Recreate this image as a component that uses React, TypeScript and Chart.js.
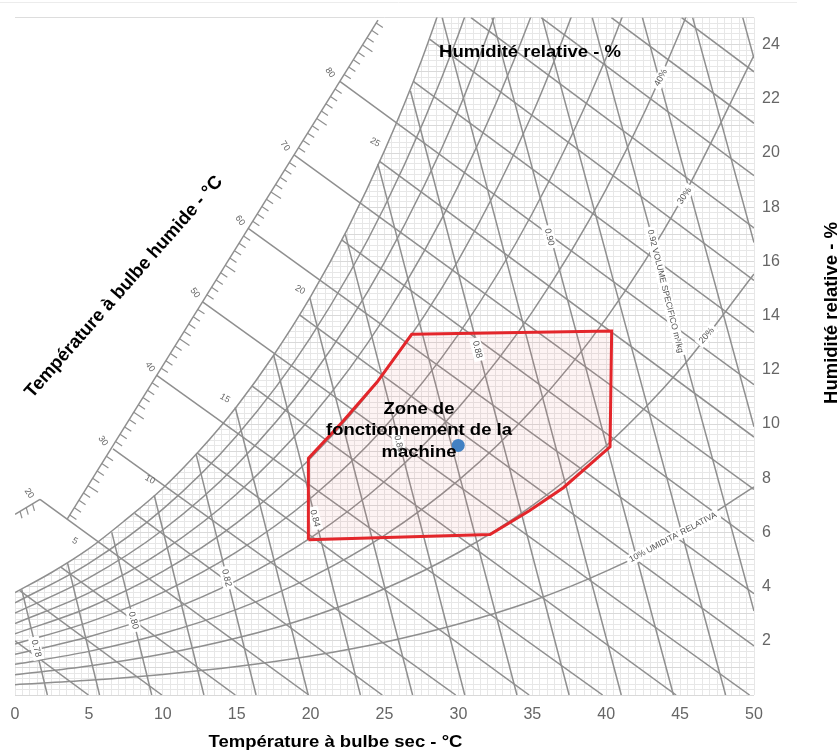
import React, { useEffect, useRef } from 'react';
import { Chart, registerables } from 'chart.js';

Chart.register(...registerables);

// ---------------- data (dry bulb °C, humidity g/kg) ----------------
const X_TICK_STEP = 5;
const Y_TICK_STEP = 2;

// saturation curve (100 %)
const SAT_T = [0, 2.5, 5, 7.5, 10, 12.5, 15, 17.5, 20, 22.5, 25, 27.5, 30];
const SAT_W = [3.78, 4.53, 5.4, 6.47, 7.63, 9.03, 10.65, 12.54, 14.7, 17.2, 20.09, 23.42, 27.3];

// relative humidity curves
const RH_T = [0, 5, 10, 15, 20, 25, 30, 35, 40, 45, 50];
const RH_90 = [3.4, 4.86, 6.86, 9.57, 13.2, 18.02, 24.38, 32.7];
const RH_80 = [3.02, 4.32, 6.09, 8.49, 11.7, 15.97, 21.58, 28.9];
const RH_70 = [2.64, 3.77, 5.32, 7.42, 10.22, 13.93, 18.8, 25.17, 33.4];
const RH_60 = [2.26, 3.23, 4.56, 6.35, 8.74, 11.9, 16.05, 21.44, 28.4];
const RH_50 = [1.88, 2.69, 3.79, 5.28, 7.26, 9.88, 13.31, 17.77, 23.52, 30.9];
const RH_40 = [1.5, 2.15, 3.03, 4.22, 5.8, 7.88, 10.6, 14.14, 18.67, 24.49, 31.9];
const RH_30 = [1.13, 1.61, 2.27, 3.16, 4.34, 5.89, 7.92, 10.54, 13.9, 18.19, 23.61];
const RH_20 = [0.75, 1.07, 1.51, 2.1, 2.88, 3.92, 5.26, 6.99, 9.2, 12.01, 15.54];
const RH_10 = [0.38, 0.54, 0.76, 1.05, 1.44, 1.95, 2.62, 3.47, 4.57, 5.95, 7.68];

// enthalpy / wet-bulb lines (start, end)
const ENTH_H = [5, 10, 15, 20, 25, 30, 35, 40, 45, 50, 55, 60, 65, 70, 75, 80, 85, 90, 95, 100, 105, 110];
const ENTH_START_T = [0, 0.3, 3.1, 1.69, 8.1, 6.63, 12.33, 9.59, 16.02, 12.69, 19.25, 15.78, 22.1, 18.88, 24.65, 21.98, 26.95, 28.07, 30.85, 35.6, 40.35, 45.1];
const ENTH_START_W = [2.0, 3.86, 4.72, 7.22, 6.7, 9.08, 8.93, 11.8, 11.41, 14.51, 14.03, 17.22, 16.8, 19.93, 19.7, 22.65, 22.65, 24.2, 25, 25, 25, 25];
const ENTH_END_T = [4.97, 9.94, 14.91, 19.88, 24.85, 29.82, 34.79, 39.76, 44.73, 49.7, 50, 50, 50, 50, 50, 50, 50, 50, 50, 50, 50, 50];
const ENTH_END_W = [0, 0, 0, 0, 0, 0, 0, 0, 0, 0, 1.81, 3.74, 5.67, 7.59, 9.52, 11.45, 13.38, 15.3, 17.24, 19.17, 21.1, 23.0];

// enthalpy diagonal scale
const ENTH_SCALE_H = [20.4, 88.4];
const ENTH_SCALE_T = [3.52, 24.56];
const ENTH_SCALE_W = [6.48, 24.91];
const MINI_SCALE_T = [1.69, 0];
const MINI_SCALE_W = [7.22, 6.67];
const ENTH_LABELS = ['20', '30', '40', '50', '60', '70', '80'];
const ENTH_LABEL_T = [0.95, 5.95, 9.13, 12.18, 15.22, 18.27, 21.31];
const ENTH_LABEL_W = [7.44, 9.38, 12.11, 14.84, 17.51, 20.26, 22.97];

// wet bulb labels on saturation
const WB_LABELS = ['5', '10', '15', '20', '25'];
const WB_LABEL_T = [4.06, 9.13, 14.2, 19.28, 24.36];
const WB_LABEL_W = [5.68, 7.95, 10.95, 14.95, 20.4];

// specific volume lines
const VOL_START_T = [0.45, 3.55, 6.55, 9.42, 12.25, 14.9, 17.5, 19.95, 22.35, 24.55, 26.75, 28.9, 32.27, 35.67, 39.06, 42.45, 45.85, 49.24];
const VOL_START_W = [3.9, 4.88, 6.0, 7.37, 8.9, 10.62, 12.55, 14.65, 17.0, 19.6, 22.3, 25, 25, 25, 25, 25, 25, 25];
const VOL_END_T = [2.19, 5.72, 9.25, 12.78, 16.31, 19.84, 23.37, 26.9, 30.43, 33.96, 37.49, 41.02, 44.55, 48.08, 50, 50, 50, 50];
const VOL_END_W = [0, 0, 0, 0, 0, 0, 0, 0, 0, 0, 0, 0, 0, 0, 3.1, 9.9, 16.7, 23.5];
const VOL_LABELS = ['0.78', '0.80', '0.82', '0.84', '0.86', '0.88', '0.90', '0.92 VOLUME SPECIFICO m³/kg'];
const VOL_LABEL_T = [1.43, 8.01, 14.31, 20.29, 25.97, 31.27, 36.15, 44.0];
const VOL_LABEL_W = [1.72, 2.75, 4.32, 6.52, 9.27, 12.75, 16.9, 14.9];

const RH_LABELS = ['40%', '30%', '20%', "10% UMIDITA' RELATIVA"];
const RH_LABEL_T = [43.7, 45.3, 46.8, 44.52];
const RH_LABEL_W = [22.78, 18.42, 13.26, 5.82];
const RH_LABEL_ANGLE = [-62, -56, -48, -28];

// operating zone and machine point
const ZONE_T = [19.85, 19.85, 22.1, 24.5, 26.84, 40.37, 40.26, 37.1, 34.8, 32.14, 19.85];
const ZONE_W = [5.73, 8.73, 10.05, 11.55, 13.31, 13.43, 9.16, 7.65, 6.8, 5.92, 5.73];
const POINT_T = [29.99];
const POINT_W = [9.21];

// ---------------- styles ----------------
const LINE_COLOR = '#8f8f8f';
const LINE_W = 1.5;
const FONT = "'Liberation Sans', Arial, sans-serif";

const pts = (xs: number[], ys: number[]) => ys.map((y, i) => ({ x: xs[i], y }));

function buildDatasets() {
  const ds: any[] = [];
  ds.push({ label: 'point', data: pts(POINT_T, POINT_W), showLine: false, pointRadius: 6.5, pointBackgroundColor: '#4281c3', pointBorderWidth: 0, order: 0 });
  ds.push({ label: 'zone', data: pts(ZONE_T, ZONE_W), borderColor: '#e3262b', borderWidth: 3, pointRadius: 0, fill: 'shape', backgroundColor: 'rgba(230,100,100,0.08)', tension: 0, order: 1 });
  const bg = (data: any[], extra: any = {}) => ({ data, borderColor: LINE_COLOR, borderWidth: LINE_W, pointRadius: 0, fill: false, tension: 0, order: 10, ...extra });
  [RH_90, RH_80, RH_70, RH_60, RH_50, RH_40, RH_30, RH_20, RH_10].forEach((c) => ds.push(bg(pts(RH_T, c), { cubicInterpolationMode: 'monotone' })));
  ENTH_H.forEach((_, i) => ds.push(bg([{ x: ENTH_START_T[i], y: ENTH_START_W[i] }, { x: ENTH_END_T[i], y: ENTH_END_W[i] }])));
  VOL_START_T.forEach((_, i) => ds.push(bg([{ x: VOL_START_T[i], y: VOL_START_W[i] }, { x: VOL_END_T[i], y: VOL_END_W[i] }])));
  ds.push(bg(pts(ENTH_SCALE_T, ENTH_SCALE_W)));
  ds.push(bg(pts(MINI_SCALE_T, MINI_SCALE_W)));
  ds.push({ label: 'sat', data: pts(SAT_T, SAT_W), borderColor: LINE_COLOR, borderWidth: LINE_W, pointRadius: 0, cubicInterpolationMode: 'monotone', fill: 'end', backgroundColor: '#ffffff', order: 100 });
  return ds;
}

function txt(ctx: CanvasRenderingContext2D, s: string, x: number, y: number, ang: number, font: string, color: string, bg: boolean) {
  ctx.save();
  ctx.translate(x, y);
  ctx.rotate((ang * Math.PI) / 180);
  ctx.font = font;
  ctx.textAlign = 'center';
  ctx.textBaseline = 'middle';
  if (bg) {
    const w = ctx.measureText(s).width;
    ctx.fillStyle = '#ffffff';
    ctx.fillRect(-w / 2 - 3, -5.5, w + 6, 11);
  }
  ctx.fillStyle = color;
  ctx.fillText(s, 0, 0);
  ctx.restore();
}

function drawChartLabels(chart: any) {
  const ctx: CanvasRenderingContext2D = chart.ctx;
  const xs = chart.scales.x, ys = chart.scales.y;
  const P = (t: number, w: number) => [xs.getPixelForValue(t), ys.getPixelForValue(w)];
  ctx.save();
  const [ax, ay] = P(ENTH_SCALE_T[0], ENTH_SCALE_W[0]);
  const [bx, by] = P(ENTH_SCALE_T[1], ENTH_SCALE_W[1]);
  const h0 = ENTH_SCALE_H[0], h1 = ENTH_SCALE_H[1];
  ctx.strokeStyle = LINE_COLOR;
  ctx.lineWidth = 1.2;
  for (let h = Math.ceil(h0); h <= h1; h++) {
    if (h % 10 === 0) continue;
    const f = (h - h0) / (h1 - h0);
    const x = ax + f * (bx - ax), y = ay + f * (by - ay);
    const len = h % 5 === 0 ? 12 : 8;
    ctx.beginPath();
    ctx.moveTo(x, y);
    ctx.lineTo(x + 0.83 * len, y + 0.56 * len);
    ctx.stroke();
  }
  const [mx0, my0] = P(MINI_SCALE_T[0], MINI_SCALE_W[0]);
  const [mx1, my1] = P(MINI_SCALE_T[1], MINI_SCALE_W[1]);
  [0.3, 0.55, 0.8].forEach((f) => {
    const x = mx0 + f * (mx1 - mx0), y = my0 + f * (my1 - my0);
    ctx.beginPath();
    ctx.moveTo(x, y);
    ctx.lineTo(x + 2, y + 7);
    ctx.stroke();
  });
  const small = `9px ${FONT}`;
  VOL_LABELS.forEach((s, i) => {
    const [x, y] = P(VOL_LABEL_T[i], VOL_LABEL_W[i]);
    txt(ctx, s, x, y, 76, i === 7 ? `8.5px ${FONT}` : small, '#555', true);
  });
  RH_LABELS.forEach((s, i) => {
    const [x, y] = P(RH_LABEL_T[i], RH_LABEL_W[i]);
    txt(ctx, s, x, y, RH_LABEL_ANGLE[i], i === 3 ? `8.5px ${FONT}` : small, '#555', true);
  });
  WB_LABELS.forEach((s, i) => {
    const [x, y] = P(WB_LABEL_T[i], WB_LABEL_W[i]);
    txt(ctx, s, x, y, 30, small, '#666', false);
  });
  ENTH_LABELS.forEach((s, i) => {
    const [x, y] = P(ENTH_LABEL_T[i], ENTH_LABEL_W[i]);
    txt(ctx, s, x, y, 55, small, '#666', false);
  });
  ctx.restore();
}

function squishText(ctx: CanvasRenderingContext2D, s: string, x: number, y: number, size: number) {
  ctx.save();
  ctx.translate(x, y);
  ctx.scale(1, 0.9);
  ctx.font = `bold ${size}px ${FONT}`;
  ctx.textAlign = 'center';
  ctx.textBaseline = 'alphabetic';
  ctx.fillStyle = '#000';
  ctx.fillText(s, 0, 0);
  ctx.restore();
}

function drawTitles(chart: any) {
  const ctx: CanvasRenderingContext2D = chart.ctx;
  ctx.save();
  ctx.strokeStyle = '#ececec';
  ctx.lineWidth = 1;
  ctx.beginPath();
  ctx.moveTo(0, 2.5);
  ctx.lineTo(797, 2.5);
  ctx.stroke();
  squishText(ctx, 'Humidité relative - %', 530, 56.5, 18.5);
  squishText(ctx, 'Température à bulbe sec - °C', 335.5, 746.5, 18.5);
  squishText(ctx, 'Zone de', 419, 414, 18.5);
  squishText(ctx, 'fonctionnement de la', 419, 435, 18.5);
  squishText(ctx, 'machine', 419, 457, 18.5);
  ctx.save();
  ctx.translate(837, 313);
  ctx.rotate(-Math.PI / 2);
  ctx.font = `bold 18.5px ${FONT}`;
  ctx.textAlign = 'center';
  ctx.textBaseline = 'alphabetic';
  ctx.fillStyle = '#000';
  ctx.fillText('Humidité relative - %', 0, 0);
  ctx.restore();
  ctx.save();
  ctx.translate(124, 287);
  ctx.rotate((-48.6 * Math.PI) / 180);
  ctx.font = `bold 18.5px ${FONT}`;
  ctx.textAlign = 'center';
  ctx.textBaseline = 'middle';
  ctx.fillStyle = '#000';
  ctx.fillText('Température à bulbe humide - °C', 0, 0);
  ctx.restore();
  ctx.restore();
}

const decorPlugin = {
  id: 'decor',
  beforeDatasetDraw(chart: any, args: any) {
    const ds = chart.data.datasets[args.index];
    if (ds && ds.label === 'zone') drawChartLabels(chart);
  },
  afterDraw(chart: any) {
    drawTitles(chart);
  },
};

export default function App() {
  const ref = useRef<HTMLCanvasElement | null>(null);
  useEffect(() => {
    if (!ref.current) return;
    const chart = new Chart(ref.current, {
      type: 'line',
      data: { datasets: buildDatasets() },
      options: {
        responsive: false,
        animation: false,
        events: [],
        layout: { padding: { left: 15, top: 12.5, right: 0, bottom: 0 } },
        plugins: { legend: { display: false }, tooltip: { enabled: false } },
        scales: {
          x: {
            type: 'linear', min: 0, max: 50, position: 'bottom',
            grid: { display: false, drawTicks: false }, border: { display: false },
            ticks: { stepSize: X_TICK_STEP, color: '#666', font: { size: 16, family: FONT }, padding: 10, maxRotation: 0 },
            afterFit: (s: any) => { s.height = 56; },
          },
          y: {
            type: 'linear', min: 0, max: 25, position: 'right',
            grid: { display: false, drawTicks: false }, border: { display: false },
            ticks: {
              stepSize: Y_TICK_STEP, color: '#666', font: { size: 16, family: FONT }, padding: 8,
              callback: (v: any) => (v > 0 && v % 2 === 0 ? String(v) : ''),
            },
            afterFit: (s: any) => { s.width = 86; },
          },
          xg: {
            axis: 'x', type: 'linear', min: 0, max: 50, position: 'bottom',
            grid: { color: '#e7e7e7', lineWidth: 1, drawTicks: false }, border: { display: false },
            ticks: { display: false, stepSize: 0.5 },
            afterFit: (s: any) => { s.height = 0; },
          },
          yg: {
            axis: 'y', type: 'linear', min: 0, max: 25, position: 'left',
            grid: {
              color: (c: any) => (Math.abs(c.tick.value - Math.round(c.tick.value)) < 1e-6 ? '#d9d9d9' : '#e7e7e7'),
              lineWidth: 1, drawTicks: false,
            },
            border: { display: false },
            ticks: { display: false, stepSize: 0.2 },
            afterFit: (s: any) => { s.width = 0; },
          },
        },
      } as any,
      plugins: [decorPlugin],
    });
    return () => chart.destroy();
  }, []);
  return (
    <div style={{ position: 'fixed', left: 0, top: 0, width: 840, height: 751, background: '#fff' }}>
      <canvas ref={ref} width={840} height={751} />
    </div>
  );
}
